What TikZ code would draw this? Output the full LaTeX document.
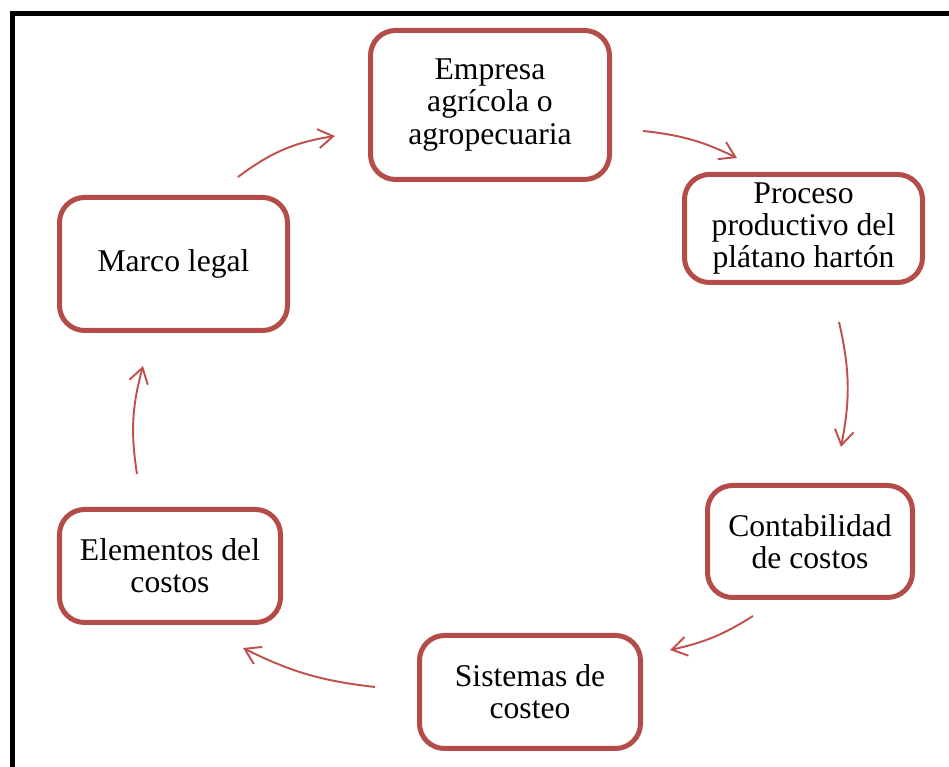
\documentclass[tikz,border=0pt]{standalone}
\usepackage{fontspec}
\setmainfont{Liberation Serif}
\usetikzlibrary{arrows.meta}
\definecolor{boxred}{RGB}{180,77,73}
\definecolor{arrred}{RGB}{192,80,77}

\begin{document}
\begin{tikzpicture}[
  box/.style={rectangle,rounded corners=0.5cm,draw=boxred,line width=0.1cm,
    align=center,font=\fontsize{18}{18.4}\selectfont,inner sep=0pt},
  arr/.style={-{Straight Barb[length=0.3cm,width=0.38cm]},draw=arrred,line width=1.1pt}]
\useasboundingbox (0,0) rectangle (18.98,15.34);
% \draw[help lines] (0,0) grid (19,15);
\draw[line width=0.1cm] (0.24,-1) -- (0.24,15.07) -- (20,15.07);
%
\node (emp) [box,minimum width=4.78cm,minimum height=2.98cm] at (9.80,13.24) {Empresa\\agrícola o\\agropecuaria};
\node (proc) [box,minimum width=4.76cm,minimum height=2.16cm] at (16.07,10.77) {Proceso\\productivo del\\plátano hartón};
\node (cont) [box,minimum width=4.10cm,minimum height=2.24cm] at (16.20,4.51) {Contabilidad\\de costos};
\node (sis) [box,minimum width=4.42cm,minimum height=2.26cm] at (10.60,1.50) {Sistemas de\\costeo};
\node (elem) [box,minimum width=4.42cm,minimum height=2.26cm] at (3.40,4.02) {Elementos del\\costos};
\node (marco) [box,minimum width=4.56cm,minimum height=2.66cm] at (3.47,10.06) {Marco legal};
%
\coordinate (a1s) at (4.76,11.80); \coordinate (a1e) at (6.70,12.62);
\coordinate (a2s) at (12.86,12.72); \coordinate (a2e) at (14.74,12.18);
\coordinate (a3s) at (16.78,8.90); \coordinate (a3e) at (16.82,6.40);
\coordinate (a4s) at (15.06,3.02); \coordinate (a4e) at (13.40,2.34);
\coordinate (a5s) at (7.50,1.60); \coordinate (a5e) at (4.86,2.38);
\coordinate (a6s) at (2.74,5.86); \coordinate (a6e) at (2.86,8.02);
%
\draw[arr] (a1s) to[bend left=14] (a1e);
\draw[arr] (a2s) to[bend left=10] (a2e);
\draw[arr] (a3s) to[bend left=12] (a3e);
\draw[arr] (a4s) to[bend left=10] (a4e);
\draw[arr] (a5s) to[bend left=10] (a5e);
\draw[arr] (a6s) to[bend left=12] (a6e);
\end{tikzpicture}
\end{document}
